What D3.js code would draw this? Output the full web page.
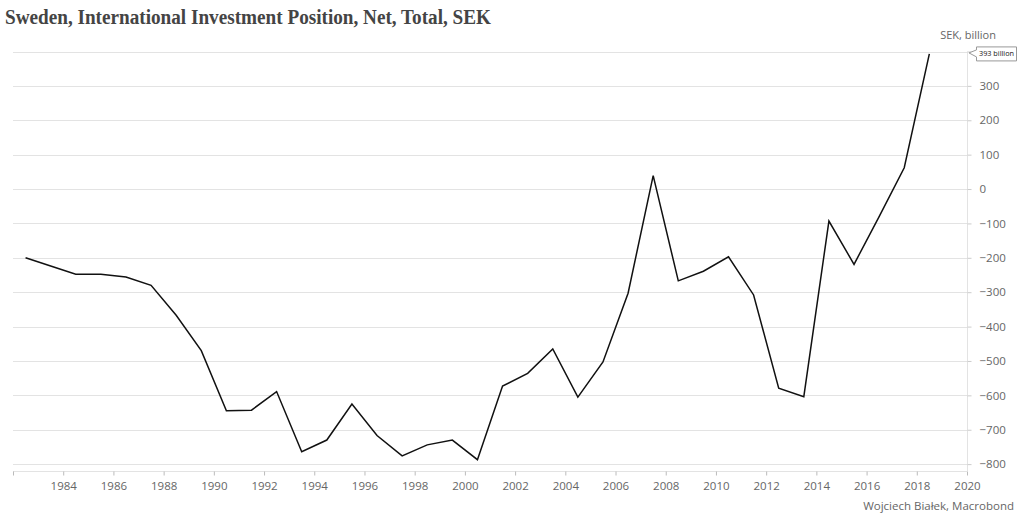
<!DOCTYPE html>
<html><head><meta charset="utf-8">
<script src="https://cdn.jsdelivr.net/npm/d3@7"></script>
<style>body{margin:0;background:#fff}svg{display:block}</style>
</head><body><svg id="c" width="1024" height="521"></svg>
<script>
const years = [1982,1983,1984,1985,1986,1987,1988,1989,1990,1991,1992,1993,1994,1995,1996,1997,1998,1999,2000,2001,2002,2003,2004,2005,2006,2007,2008,2009,2010,2011,2012,2013,2014,2015,2016,2017,2018];
const values = [-200,-224,-248,-248,-256,-280,-367,-470,-645,-643,-589,-764,-730,-625,-717,-776,-744,-730,-787,-573,-536,-465,-605,-503,-303,39,-267,-239,-197,-308,-579,-604,-93,-219,-80,62,393];
const xTicks = [1984,1986,1988,1990,1992,1994,1996,1998,2000,2002,2004,2006,2008,2010,2012,2014,2016,2018,2020];
const yTicks = [-800,-700,-600,-500,-400,-300,-200,-100,0,100,200,300,400];
const title = "Sweden, International Investment Position, Net, Total, SEK";
const unitLabel = "SEK, billion";
const lastLabel = "393 billion";
const source = "Wojciech Białek, Macrobond";

const svg = d3.select("#c");
const font = "'Open Sans', sans-serif";
const x = d3.scaleLinear().domain([1982, 2020]).range([13, 967]);
const y = d3.scaleLinear().domain([-820, 400]).range([471, 51.5]);

svg.append("text").attr("x",5).attr("y",24).text(title)
  .attr("font-family","'Liberation Serif', serif").attr("font-weight","bold")
  .attr("font-size",20).attr("fill","#444")
  .attr("textLength",486).attr("lengthAdjust","spacingAndGlyphs");

// gridlines
svg.append("g").selectAll("line").data(yTicks).join("line")
  .attr("x1",13).attr("x2",967).attr("y1",d=>Math.round(y(d))+0.5).attr("y2",d=>Math.round(y(d))+0.5)
  .attr("stroke","#e3e3e3").attr("stroke-width",1);

// right axis
const yAxis = d3.axisRight(y).tickValues(yTicks).tickSize(4).tickPadding(8)
  .tickFormat(d => d===400 ? "" : d3.format("d")(d));
const ga = svg.append("g").attr("transform","translate(967.5,0)").call(yAxis);
ga.select(".domain").attr("stroke","#e3e3e3").attr("d","M0,"+y(400)+"V471");
ga.selectAll(".tick line").attr("stroke","#ccc");
ga.selectAll("text").attr("font-family",font).attr("font-size",11.5).attr("fill","#666");

// bottom axis
const xAxis = d3.axisBottom(x).tickValues([1982].concat(xTicks)).tickSize(4).tickPadding(6)
  .tickFormat(d => d===1982 ? "" : d);
const gx = svg.append("g").attr("transform","translate(0,471.5)").call(xAxis);
gx.select(".domain").attr("stroke","#e3e3e3").attr("d","M13,0H967");
gx.selectAll(".tick line").attr("stroke","#bbb");
gx.selectAll("text").attr("font-family",font).attr("font-size",11.5).attr("fill","#666");

// line
const line = d3.line().x((d,i)=>x(years[i]+0.5)).y(d=>y(d));
svg.append("path").datum(values).attr("d",line).attr("fill","none")
  .attr("stroke","#111").attr("stroke-width",1.5).attr("stroke-linejoin","miter");

// unit label
svg.append("text").attr("x",996).attr("y",39).attr("text-anchor","end").text(unitLabel)
  .attr("font-family",font).attr("font-size",11).attr("fill","#666");

// last value label
const ly = y(values[values.length-1]);
const lg = svg.append("g");
lg.append("path").attr("d",`M976.5,${ly-7}H1016.5V${ly+7}H976.5V${ly+3}L969,${ly-1}L976.5,${ly-4}Z`)
  .attr("fill","#fff").attr("stroke","#999").attr("stroke-width",1);
lg.append("text").attr("x",979).attr("y",ly+2.5).text(lastLabel)
  .attr("font-family",font).attr("font-size",7.5).attr("fill","#111")
  .attr("textLength",35).attr("lengthAdjust","spacingAndGlyphs");

// source
svg.append("text").attr("x",1014).attr("y",510).attr("text-anchor","end").text(source)
  .attr("font-family",font).attr("font-size",11.5).attr("fill","#666");
</script></body></html>
